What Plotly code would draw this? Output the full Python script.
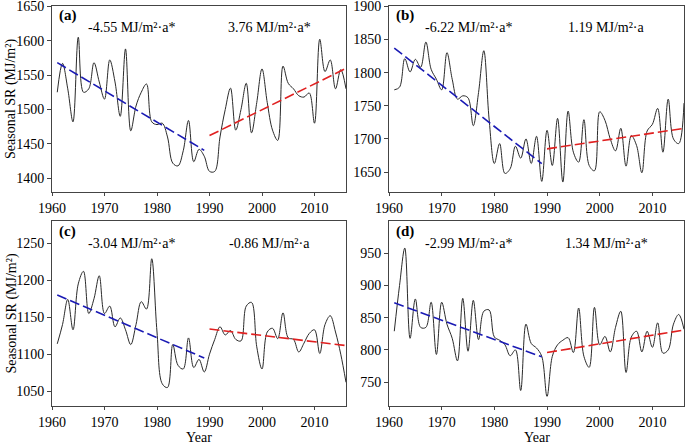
import plotly.graph_objects as go

years = list(range(1961, 2017))

sr_a = [1525, 1567, 1530, 1482, 1605, 1525, 1530, 1568, 1540, 1515,
        1572, 1540, 1490, 1588, 1469, 1505, 1525, 1537, 1482, 1478,
        1480, 1460, 1422, 1418, 1440, 1484, 1424, 1442, 1432, 1410,
        1410, 1460, 1500, 1531, 1470, 1500, 1538, 1466, 1510, 1559,
        1510, 1470, 1455, 1563, 1538, 1530, 1520, 1518, 1524, 1480,
        1602, 1555, 1572, 1530, 1558, 1530]

sr_b = [1774, 1778, 1821, 1801, 1820, 1808, 1846, 1805, 1790, 1774,
        1830, 1790, 1760, 1765, 1762, 1720, 1770, 1833, 1730, 1663,
        1693, 1648, 1655, 1689, 1671, 1700, 1663, 1704, 1636, 1713,
        1660, 1731, 1635, 1742, 1680, 1665, 1729, 1660, 1652, 1741,
        1728, 1700, 1682, 1716, 1659, 1705, 1690, 1649, 1712, 1722,
        1746, 1680, 1760, 1700, 1693, 1754]

sr_c = [1114, 1140, 1174, 1133, 1195, 1212, 1155, 1175, 1206, 1155,
        1165, 1137, 1149, 1133, 1113, 1140, 1171, 1161, 1229, 1130,
        1060, 1055, 1113, 1085, 1080, 1122, 1082, 1093, 1076, 1100,
        1120, 1137, 1126, 1132, 1120, 1118, 1165, 1170, 1110, 1080,
        1130, 1135, 1121, 1156, 1122, 1120, 1103, 1115, 1128, 1133,
        1101, 1140, 1152, 1130, 1100, 1062]

sr_d = [829, 900, 958, 818, 879, 835, 835, 874, 793, 874,
        840, 818, 783, 880, 798, 877, 816, 860, 862, 820,
        815, 808, 791, 800, 737, 840, 810, 803, 790, 728,
        790, 808, 815, 819, 796, 865, 790, 773, 866, 808,
        821, 797, 835, 860, 765, 820, 829, 797, 829, 804,
        842, 795, 800, 840, 855, 832]

period_early = [1961, 1989]
period_late = [1990, 2016]

# trend slopes (MJ/m2 per year) and fitted values at the period start
slopes = {"a": [-4.55, 3.76], "b": [-6.22, 1.19], "c": [-3.04, -0.86], "d": [-2.99, 1.34]}
starts = {"a": [1568, 1462], "b": [1837, 1685], "c": [1180, 1134], "d": [873, 796]}
trend_labels = {"a": ["-4.55 MJ/m²·a*", "3.76 MJ/m²·a*"],
                "b": ["-6.22 MJ/m²·a*", "1.19 MJ/m²·a"],
                "c": ["-3.04 MJ/m²·a*", "-0.86 MJ/m²·a"],
                "d": ["-2.99 MJ/m²·a*", "1.34 MJ/m²·a*"]}
y_ranges = {"a": [1380, 1650.4], "b": [1620, 1900.4], "c": [1030, 1280], "d": [713, 1000]}
y_ticks = {"a": [1400, 1450, 1500, 1550, 1600, 1650],
           "b": [1650, 1700, 1750, 1800, 1850, 1900],
           "c": [1050, 1100, 1150, 1200, 1250],
           "d": [750, 800, 850, 900, 950]}
x_ticks = [1960, 1970, 1980, 1990, 2000, 2010]

series = {"a": sr_a, "b": sr_b, "c": sr_c, "d": sr_d}

W, H = 685, 445
def px(x):
    return x / W
def py(y):
    return 1 - y / H

# panel boxes in pixels: left, right, top, bottom
boxes = {"a": (52, 346, 6, 192), "b": (389, 684, 6, 192),
         "c": (52, 346, 221, 406), "d": (389, 684, 221, 406)}

FONT = "Liberation Serif, Times New Roman, serif"
fig = go.Figure()
layout = dict(width=W, height=H, margin=dict(l=0, r=0, t=0, b=0),
              paper_bgcolor="white", plot_bgcolor="white", showlegend=False,
              font=dict(family=FONT, size=14, color="black"))
annotations = []

for i, key in enumerate(["a", "b", "c", "d"]):
    n = "" if i == 0 else str(i + 1)
    xa, ya = "x" + n, "y" + n
    l, r, t, b = boxes[key]
    fig.add_trace(go.Scatter(x=years, y=series[key], mode="lines",
                             line=dict(color="#2a2a2a", width=1, shape="spline", smoothing=1.0),
                             xaxis=xa, yaxis=ya))
    for j, (per, col) in enumerate([(period_early, "#1a1ab4"), (period_late, "#e02020")]):
        ty = [starts[key][j] + slopes[key][j] * (yr - per[0]) for yr in per]
        fig.add_trace(go.Scatter(x=per, y=ty, mode="lines",
                                 line=dict(color=col, width=1.6, dash="10px,4px"),
                                 xaxis=xa, yaxis=ya))
    axis_common = dict(showline=True, mirror=True, linecolor="#444", linewidth=1,
                       ticks="outside", tickcolor="#444", showgrid=False,
                       zeroline=False, automargin=False, ticklabeloverflow="allow",
                       tickfont=dict(family=FONT, size=14, color="black"))
    layout["xaxis" + n] = dict(domain=[px(l), px(r)], range=[1960, 2016], tickvals=x_ticks,
                               anchor=ya, ticklen=3, ticklabelstandoff=0, **axis_common)
    layout["yaxis" + n] = dict(domain=[py(b), py(t)], range=y_ranges[key], tickvals=y_ticks[key],
                               anchor=xa, ticklen=4, **axis_common)
    annotations.append(dict(x=px(l + 5), y=py(t + 10), xref="paper", yref="paper",
                            text="<b>(" + key + ")</b>", showarrow=False, xanchor="left",
                            yanchor="middle", font=dict(family=FONT, size=15)))
    ty_txt = py(t + 22)
    annotations.append(dict(x=px(l + 79), y=ty_txt, xref="paper", yref="paper",
                            text=trend_labels[key][0], showarrow=False, xanchor="center",
                            yanchor="middle", font=dict(family=FONT, size=14)))
    annotations.append(dict(x=px(l + 217), y=ty_txt, xref="paper", yref="paper",
                            text=trend_labels[key][1], showarrow=False, xanchor="center",
                            yanchor="middle", font=dict(family=FONT, size=14)))

for key in ["a", "c"]:
    l, r, t, b = boxes[key]
    annotations.append(dict(x=px(11), y=py((t + b) / 2), xref="paper", yref="paper",
                            text="Seasonal SR (MJ/m²)", showarrow=False, textangle=-90,
                            xanchor="center", yanchor="middle", font=dict(family=FONT, size=14)))
for key in ["c", "d"]:
    l, r, t, b = boxes[key]
    annotations.append(dict(x=px((l + r) / 2), y=py(447), xref="paper", yref="paper",
                            text="Year", showarrow=False, xanchor="center",
                            yanchor="bottom", font=dict(family=FONT, size=14)))

layout["annotations"] = annotations
fig.update_layout(**layout)
fig.write_html("out.html", config={"displayModeBar": False},
               post_script="document.body.style.margin='0';document.body.style.overflow='hidden';")
